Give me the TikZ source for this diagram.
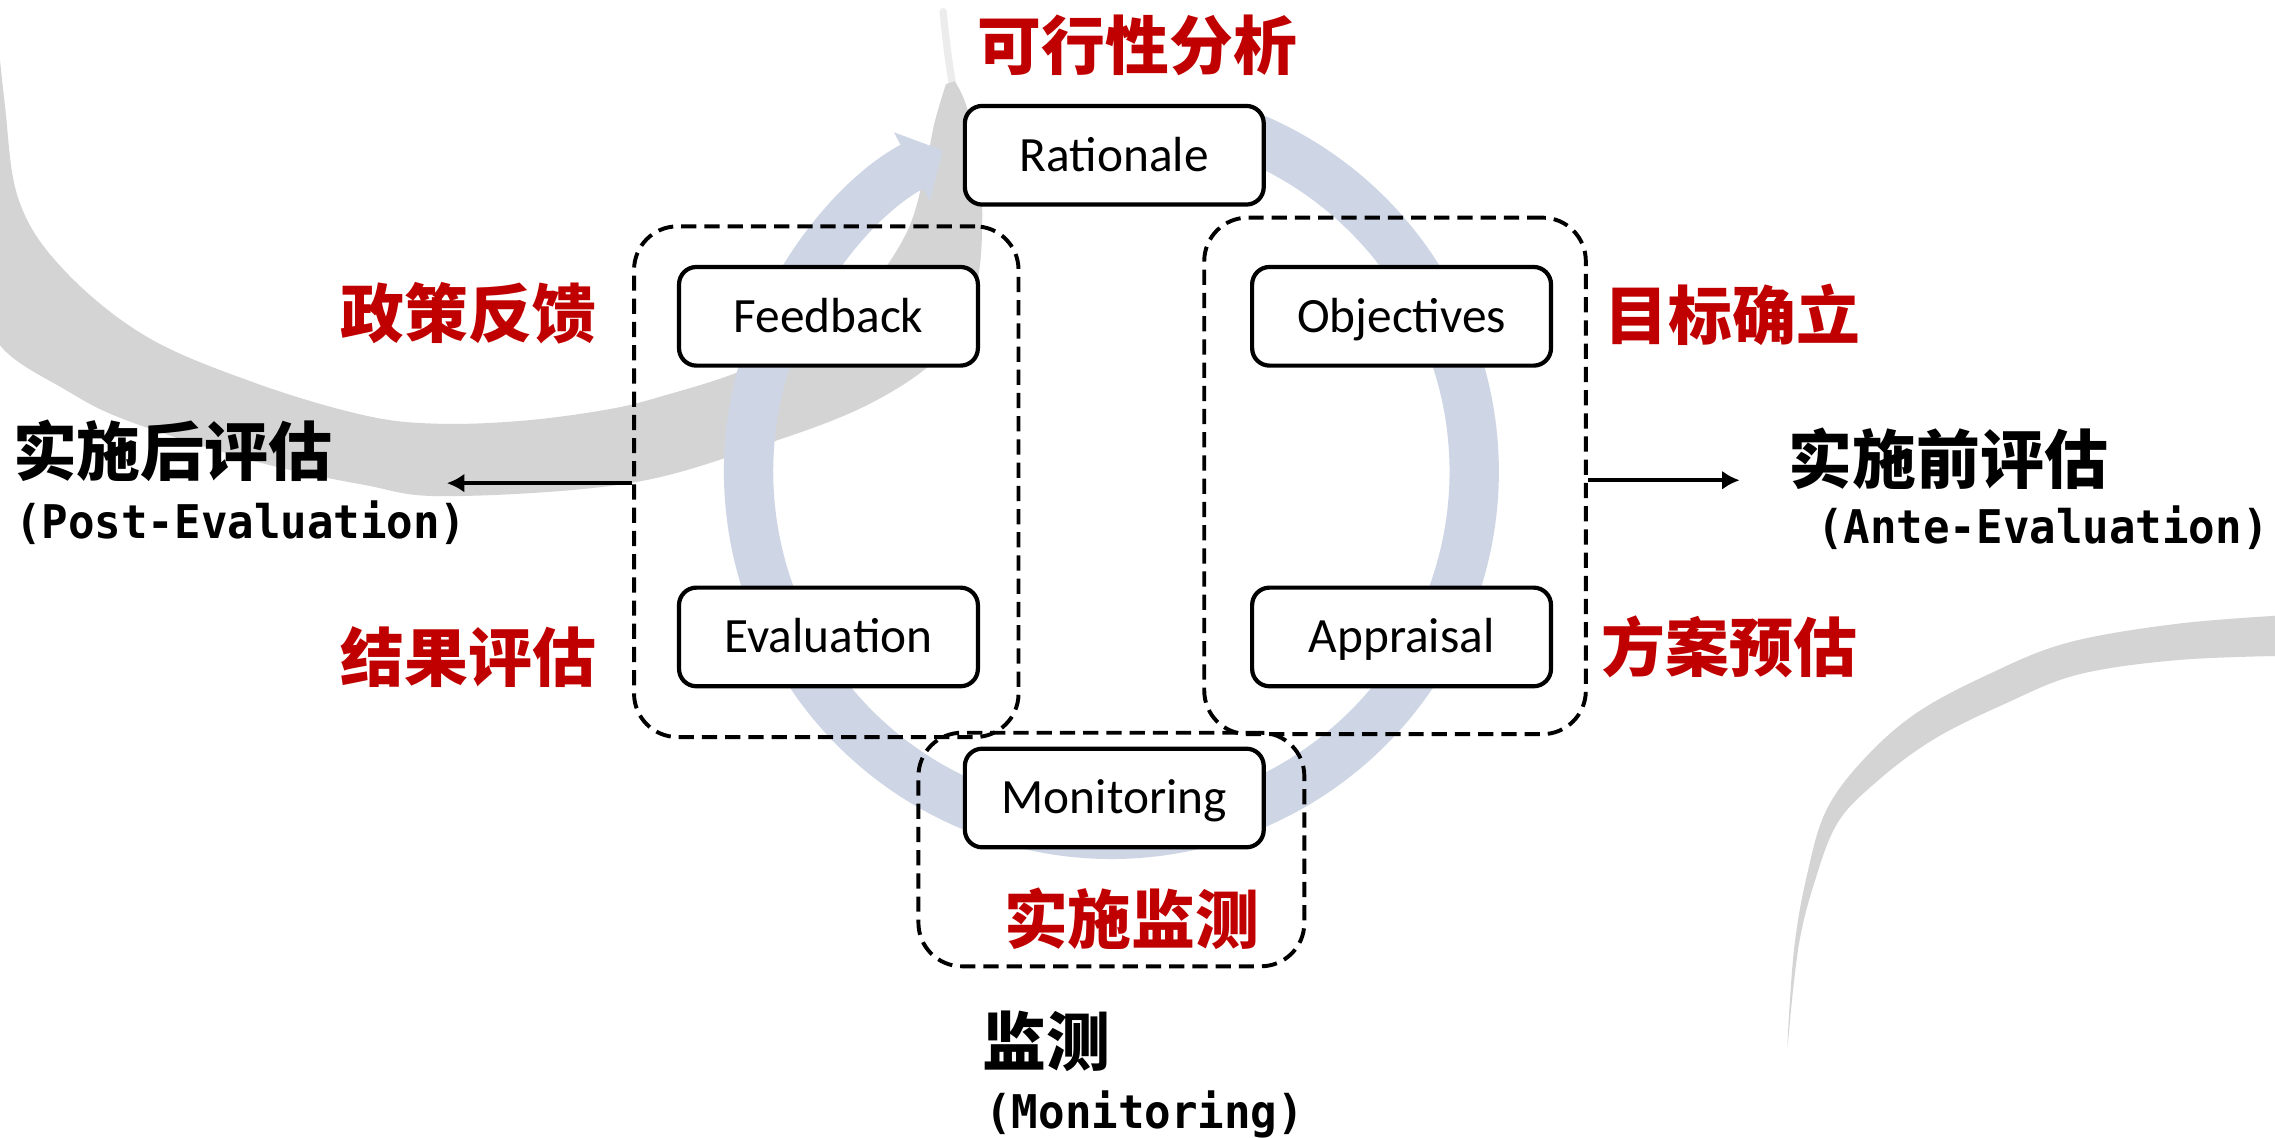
\documentclass[tikz,border=0pt]{standalone}
\usepackage{fontspec}
\usetikzlibrary{arrows.meta}
\newfontfamily\cjkfont{Noto Sans CJK SC}
\newfontfamily\boxfont{Carlito}
\newfontfamily\monofont{DejaVu Sans Mono}[FakeStretch=0.95]
\definecolor{tred}{RGB}{192,0,0}
\definecolor{ringblue}{RGB}{206,214,230}
\definecolor{swoosh}{RGB}{212,212,212}
\begin{document}
\begin{tikzpicture}[x=1pt,y=-1pt,
  procbox/.style={draw=black, line width=2.9pt, fill=white, rounded corners=12pt,
    minimum width=206pt, minimum height=68pt, inner sep=0pt,
    font=\boxfont\fontsize{34}{34}\selectfont, text height=22pt, text depth=0pt},
  groupbox/.style={draw=black, line width=2.7pt, dash pattern=on 10.5pt off 5.5pt,
    rounded corners=30pt, inner sep=0pt},
  redlabel/.style={text=tred, font=\cjkfont\bfseries\fontsize{44}{44}\selectfont, inner sep=0pt},
  blacklabel/.style={text=black, font=\cjkfont\bfseries\fontsize{44}{44}\selectfont, inner sep=0pt},
  monolabel/.style={text=black, font=\monofont\bfseries\fontsize{32}{32}\selectfont, inner sep=0pt},
  arr/.style={line width=3pt, -{Latex[length=12pt,width=13pt]}},
]
\useasboundingbox[fill=white] (0,0) rectangle (1568,784);
% background swooshes
\begin{scope}
\clip (0,0) rectangle (1568,784);
\draw[swoosh!45, line width=5pt, line cap=round] plot[smooth] coordinates {(657,62) (653,35) (650,8)};
\fill[swoosh] plot[smooth, tension=0.6] coordinates {(-70,-10) (-45,100) (-20,190) (0,238) (44,268) (88,290) (176,318) (250,334) (308,342) (434,333) (528,306) (600,278) (650,243) (672,200) (677,150) (673,100) (665,70) (658,56)}
  -- plot[smooth, tension=0.6] coordinates {(652,58) (644,85) (637,120) (625,160) (598,200) (560,232) (510,256) (460,272) (420,282) (360,290) (300,292) (250,286) (176,264) (101,232) (44,186) (13,138) (3,69) (-5,-10)}
  -- cycle;
\fill[swoosh] plot[smooth, tension=0.6] coordinates {(1575,424) (1500,430) (1425,443) (1370,465) (1320,492) (1283,525) (1258,560) (1245,605) (1237,650) (1233,700) (1232,722)}
  -- plot[smooth, tension=0.6] coordinates {(1234,700) (1240,650) (1250,610) (1266,568) (1292,540) (1332,510) (1382,485) (1432,465) (1500,455) (1575,452)}
  -- cycle;
\end{scope}
% blue cycle arrow
\coordinate (ringc) at (766,325);
\draw[ringblue, line width=34pt, -{Triangle[length=24pt,width=52pt]}]
  (ringc) ++(-70:250) arc[start angle=-70, end angle=242.3, radius=250];
% dashed groups
\node[groupbox, minimum width=265pt, minimum height=352pt] (gL) at (569.5,332) {};
\node[groupbox, minimum width=263pt, minimum height=356pt] (gR) at (961.5,328) {};
\node[groupbox, minimum width=266pt, minimum height=161pt] (gB) at (766,585.5) {};
% process boxes
\node[procbox] (rat) at (768,107) {Rationale};
\node[procbox] (feed) at (571,218) {Feedback};
\node[procbox] (obj) at (966,218) {Objectives};
\node[procbox] (eval) at (571,439) {Evaluation};
\node[procbox] (appr) at (966,439) {Appraisal};
\node[procbox] (mon) at (768,550) {Monitoring};
% red labels
\node[redlabel] (lFeas) at (784,31) {可行性分析};
\node[redlabel] (lFeed) at (323,216) {政策反馈};
\node[redlabel] (lObj) at (1194,217) {目标确立};
\node[redlabel] (lEval) at (323,453) {结果评估};
\node[redlabel] (lAppr) at (1192,446) {方案预估};
\node[redlabel] (lMon) at (780,633) {实施监测};
% black labels
\node[blacklabel] (lPost) at (119,311) {实施后评估};
\node[monolabel] (lPostE) at (166,360) {(Post-Evaluation)};
\node[blacklabel] (lAnte) at (1343,316) {实施前评估};
\node[monolabel] (lAnteE) at (1408,364) {(Ante-Evaluation)};
\node[blacklabel] (lMonC) at (721,718) {监测};
\node[monolabel] (lMonE) at (789,768) {(Monitoring)};
% arrows
\coordinate (postTip) at (308,333);
\coordinate (anteTip) at (1199,331);
\draw[arr] (gL.west |- postTip) -- (postTip);
\draw[arr] (gR.east |- anteTip) -- (anteTip);
\end{tikzpicture}
\end{document}
